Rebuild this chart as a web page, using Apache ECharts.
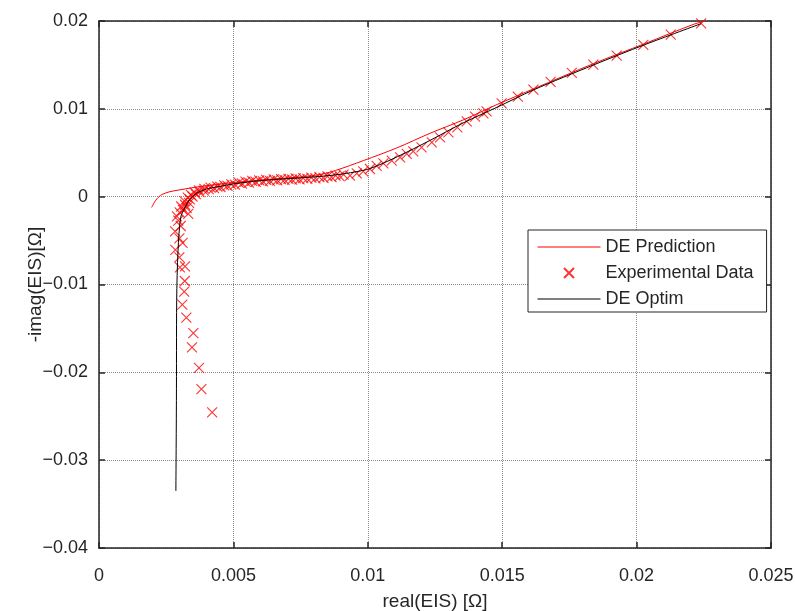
<!DOCTYPE html>
<html lang="en">
<head>
<meta charset="UTF-8">
<title>EIS fit</title>
<script src="https://cdn.jsdelivr.net/npm/echarts@6/dist/echarts.min.js"></script>
<style>
  html, body { margin: 0; padding: 0; background: #fff; }
  #main { width: 795px; height: 611px; }
</style>
</head>
<body>
<div id="main"></div>
<script>
// axis ranges / ticks
var xTicks = { min: 0, max: 0.025, step: 0.005 };
var yTicks = { min: -0.04, max: 0.02, step: 0.01 };

// DE Prediction (red line)
var predData = [
  [0.00196, -0.00122], [0.00205, -0.0007], [0.00215, -0.00026], [0.00233, 0.00023],
  [0.00264, 0.00057], [0.00301, 0.00078], [0.00340, 0.00098], [0.00376, 0.00115],
  [0.0045, 0.00142], [0.0050, 0.00160], [0.0060, 0.00190], [0.0070, 0.00213],
  [0.0076, 0.00228], [0.0082, 0.00250], [0.0088, 0.00298], [0.00983, 0.0041],
  [0.01108, 0.00555], [0.01231, 0.00721], [0.01355, 0.00874], [0.0148, 0.01048],
  [0.0162, 0.01232], [0.0184, 0.01515], [0.0203, 0.01742], [0.0221, 0.01960],
  [0.0225, 0.01995]
];

// Experimental data (red crosses)
var expData = [
  [0.00421, -0.02457], [0.00381, -0.0219], [0.00372, -0.0195], [0.00346, -0.01716],
  [0.00351, -0.01553], [0.00325, -0.01378], [0.0031, -0.0123], [0.00317, -0.01082],
  [0.00319, -0.0096], [0.00301, -0.00805], [0.0032, -0.00794], [0.00299, -0.0069],
  [0.00284, -0.00607], [0.00311, -0.00527], [0.00299, -0.00475], [0.00283, -0.00395],
  [0.00304, -0.00334], [0.00295, -0.00273], [0.00290, -0.00225], [0.00332, -0.00197],
  [0.00300, -0.00180], [0.00312, -0.00150], [0.00326, -0.00128], [0.00306, -0.00112],
  [0.00320, -0.00092], [0.00335, -0.00070], [0.00318, -0.00050], [0.00338, -0.00030],
  [0.00330, -0.00012], [0.00348, 0.00002], [0.00342, 0.00020], [0.00360, 0.00030],
  [0.00356, 0.00048], [0.00374, 0.00052], [0.00372, 0.00072], [0.00390, 0.00068],
  [0.00392, 0.00088], [0.00408, 0.00085], [0.00415, 0.00102], [0.00428, 0.00098],
  [0.00440, 0.00115], [0.00452, 0.00110], [0.00466, 0.00128], [0.00478, 0.00122],
  [0.00492, 0.00140], [0.00506, 0.00136], [0.00520, 0.00160], [0.00532, 0.00148],
  [0.00545, 0.00172], [0.00558, 0.00160], [0.00570, 0.00180], [0.00583, 0.00168],
  [0.00596, 0.00186], [0.00610, 0.00175], [0.00622, 0.00192], [0.00636, 0.00180],
  [0.00650, 0.00196], [0.00663, 0.00185], [0.00677, 0.00200], [0.00690, 0.00190],
  [0.00705, 0.00203], [0.00718, 0.00194], [0.00732, 0.00208], [0.00746, 0.00198],
  [0.00760, 0.00212], [0.00775, 0.00203], [0.00790, 0.00216], [0.00805, 0.00207],
  [0.00820, 0.00222], [0.00835, 0.00214], [0.00850, 0.00230], [0.00865, 0.00222],
  [0.00880, 0.00240], [0.00895, 0.00235], [0.00910, 0.00252], [0.00934, 0.00239],
  [0.00959, 0.00265], [0.00983, 0.00288], [0.01008, 0.00315], [0.01033, 0.0035],
  [0.01058, 0.00379], [0.01089, 0.0041], [0.0112, 0.00448], [0.01145, 0.00486],
  [0.01169, 0.00516], [0.012, 0.00561], [0.01238, 0.00618], [0.01269, 0.00675],
  [0.013, 0.00732], [0.01333, 0.00789], [0.01368, 0.00858], [0.01399, 0.00911],
  [0.0143, 0.00949], [0.01442, 0.00972], [0.01498, 0.01063], [0.01558, 0.01139],
  [0.01616, 0.01219], [0.0168, 0.01306], [0.01759, 0.01409], [0.01839, 0.01503],
  [0.01926, 0.01606], [0.02025, 0.01728], [0.02127, 0.01845], [0.0224, 0.01974]
];

// DE Optim (black line)
var optimData = [
  [0.00286, -0.0335], [0.00288, -0.0232], [0.00289, -0.01185], [0.00294, -0.00615],
  [0.00304, -0.00236], [0.0032, -0.00122], [0.00339, -0.00026], [0.00363, 0.00038],
  [0.00401, 0.00088], [0.0045, 0.00117], [0.0050, 0.00145], [0.00599, 0.00182],
  [0.00748, 0.00214], [0.0082, 0.00230], [0.0089, 0.00252], [0.0095, 0.00280],
  [0.0101, 0.00322], [0.0111, 0.00455], [0.01231, 0.00640], [0.01355, 0.00840],
  [0.0148, 0.01017], [0.01616, 0.01215], [0.0184, 0.0150], [0.0203, 0.0173],
  [0.0224, 0.0197]
];

var axisColor = '#262626';
var font = '"Liberation Sans", Arial, sans-serif';
var crossPath = 'path://M0,0L10,10M10,0L0,10';
var linePath = 'path://M0,0M63,10M0,4.5L63,4.5L63,5.5L0,5.5Z';

function tickText(v) {
  return String(+v.toFixed(4)).replace('-', '\u2212');
}

function boxAxis(base, extra) {
  var o = {
    type: 'value',
    min: base.min, max: base.max, interval: base.step,
    axisLine: { show: true, onZero: false, lineStyle: { color: axisColor, width: 1.5 } },
    axisTick: { show: true, inside: true, length: 6, lineStyle: { color: axisColor, width: 1.5 } },
    axisLabel: { show: false },
    splitLine: { show: false }
  };
  for (var k in extra) o[k] = extra[k];
  return o;
}

var chart = echarts.init(document.getElementById('main'));
chart.setOption({
  animation: false,
  backgroundColor: '#fff',
  grid: { left: 99, right: 24, top: 21, bottom: 63, containLabel: false, outerBoundsMode: 'none' },
  xAxis: [
    boxAxis(xTicks, {
      position: 'bottom',
      name: 'real(EIS) [Ω]',
      nameLocation: 'middle',
      nameGap: 44,
      nameMoveOverlap: false,
      nameTextStyle: { fontFamily: font, fontSize: 19, color: axisColor },
      axisLabel: { show: true, margin: 19, fontFamily: font, fontSize: 18, color: axisColor, formatter: tickText },
      splitLine: { show: true, lineStyle: { color: '#8c8c8c', type: 'dotted', width: 1 } }
    }),
    boxAxis(xTicks, { position: 'top' })
  ],
  yAxis: [
    boxAxis(yTicks, {
      position: 'left',
      name: '-imag(EIS)[Ω]',
      nameLocation: 'middle',
      nameGap: 54,
      nameMoveOverlap: false,
      nameTextStyle: { fontFamily: font, fontSize: 19, color: axisColor },
      axisLabel: { show: true, margin: 11, fontFamily: font, fontSize: 18, color: axisColor, formatter: tickText },
      splitLine: { show: true, lineStyle: { color: '#8c8c8c', type: 'dotted', width: 1 } }
    }),
    boxAxis(yTicks, { position: 'right' })
  ],
  legend: {
    orient: 'vertical',
    left: 528,
    top: 230,
    padding: [8, 13, 4, 7],
    itemWidth: 63,
    itemHeight: 10,
    itemGap: 8,
    backgroundColor: '#fff',
    borderColor: axisColor,
    borderWidth: 1,
    borderRadius: 0,
    textStyle: { fontFamily: font, fontSize: 18, color: axisColor },
    data: [
      { name: 'DE Prediction', icon: linePath },
      { name: 'Experimental Data', icon: 'path://M0,0M63,10M26.5,0L36.5,10M36.5,0L26.5,10' },
      { name: 'DE Optim', icon: linePath }
    ]
  },
  series: [
    {
      name: 'DE Prediction',
      type: 'line',
      data: predData,
      symbol: 'none',
      smooth: 0.3,
      lineStyle: { color: '#ff0000', width: 1 },
      itemStyle: { color: '#ff0000' },
      z: 2
    },
    {
      name: 'Experimental Data',
      type: 'scatter',
      data: expData,
      symbol: crossPath,
      symbolSize: 10,
      itemStyle: { color: 'none', borderColor: '#ff0000', borderWidth: 1.1 },
      z: 3
    },
    {
      name: 'DE Optim',
      type: 'line',
      data: optimData,
      symbol: 'none',
      smooth: 0.3,
      lineStyle: { color: '#000000', width: 1 },
      itemStyle: { color: '#000000' },
      z: 4
    }
  ]
});
</script>
</body>
</html>
